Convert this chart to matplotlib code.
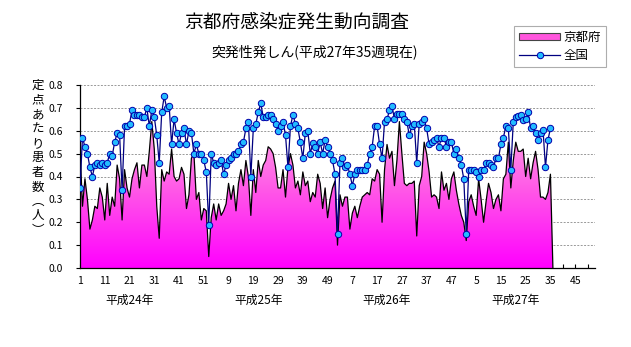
import matplotlib
matplotlib.use("Agg")
import matplotlib.pyplot as plt
import numpy as np
from matplotlib.colors import LinearSegmentedColormap
from matplotlib.patches import Polygon, Patch
from matplotlib.lines import Line2D
from matplotlib.ticker import MultipleLocator, FixedLocator

plt.rcParams['font.family'] = ['Noto Sans CJK JP', 'DejaVu Sans']

# 定点あたり患者数, weekly (平成24年 wk1 .. 平成27年 wk35)
kyoto_h24 = [0.52, 0.27, 0.39, 0.30, 0.17, 0.21, 0.27, 0.26, 0.35, 0.31,
             0.21, 0.37, 0.23, 0.31, 0.27, 0.45, 0.39, 0.21, 0.43, 0.35,
             0.31, 0.39, 0.43, 0.46, 0.35, 0.45, 0.45, 0.40, 0.51, 0.64,
             0.52, 0.27, 0.13, 0.43, 0.38, 0.42, 0.41, 0.52, 0.40, 0.38,
             0.39, 0.44, 0.41, 0.26, 0.32, 0.48, 0.50, 0.30, 0.33, 0.21,
             0.26, 0.25]
kyoto_h25 = [0.05, 0.22, 0.28, 0.21, 0.28, 0.23, 0.25, 0.28, 0.37, 0.30,
             0.36, 0.25, 0.37, 0.43, 0.36, 0.47, 0.40, 0.23, 0.43, 0.33,
             0.47, 0.40, 0.45, 0.47, 0.53, 0.52, 0.50, 0.44, 0.35, 0.35,
             0.43, 0.31, 0.44, 0.50, 0.45, 0.35, 0.38, 0.32, 0.42, 0.36,
             0.38, 0.29, 0.33, 0.31, 0.41, 0.37, 0.26, 0.35, 0.22, 0.30,
             0.35, 0.38]
kyoto_h26 = [0.10, 0.32, 0.27, 0.31, 0.31, 0.17, 0.24, 0.27, 0.22, 0.27,
             0.31, 0.32, 0.33, 0.32, 0.39, 0.38, 0.43, 0.41, 0.20, 0.43,
             0.54, 0.48, 0.51, 0.36, 0.47, 0.64, 0.50, 0.37, 0.36, 0.37,
             0.37, 0.38, 0.14, 0.36, 0.40, 0.55, 0.50, 0.42, 0.31, 0.32,
             0.31, 0.26, 0.42, 0.34, 0.37, 0.30, 0.39, 0.42, 0.34, 0.28,
             0.23, 0.20]
kyoto_h27 = [0.12, 0.29, 0.32, 0.27, 0.23, 0.39, 0.30, 0.20, 0.29, 0.37,
             0.33, 0.26, 0.30, 0.32, 0.25, 0.39, 0.41, 0.55, 0.35, 0.47,
             0.55, 0.51, 0.51, 0.52, 0.40, 0.48, 0.39, 0.46, 0.51, 0.43,
             0.31, 0.31, 0.30, 0.33, 0.41]

zenkoku_h24 = [0.35, 0.57, 0.53, 0.50, 0.44, 0.40, 0.45, 0.46, 0.45, 0.46,
               0.45, 0.46, 0.50, 0.49, 0.55, 0.59, 0.58, 0.34, 0.62, 0.62,
               0.63, 0.69, 0.67, 0.67, 0.67, 0.66, 0.66, 0.70, 0.62, 0.69,
               0.66, 0.58, 0.46, 0.68, 0.75, 0.70, 0.71, 0.54, 0.65, 0.59,
               0.54, 0.59, 0.61, 0.54, 0.60, 0.59, 0.50, 0.54, 0.50, 0.50,
               0.47, 0.42]
zenkoku_h25 = [0.19, 0.50, 0.46, 0.45, 0.46, 0.47, 0.41, 0.45, 0.47, 0.48,
               0.50, 0.50, 0.51, 0.54, 0.55, 0.61, 0.64, 0.40, 0.61, 0.63,
               0.68, 0.72, 0.66, 0.66, 0.67, 0.67, 0.65, 0.63, 0.60, 0.62,
               0.64, 0.58, 0.44, 0.62, 0.67, 0.63, 0.61, 0.55, 0.48, 0.59,
               0.60, 0.50, 0.545, 0.53, 0.50, 0.55, 0.50, 0.56, 0.53, 0.50,
               0.47, 0.41]
zenkoku_h26 = [0.15, 0.46, 0.48, 0.44, 0.45, 0.41, 0.36, 0.41, 0.43, 0.43,
               0.43, 0.43, 0.45, 0.50, 0.53, 0.62, 0.62, 0.54, 0.48, 0.64,
               0.65, 0.69, 0.71, 0.65, 0.675, 0.675, 0.675, 0.65, 0.64, 0.58,
               0.62, 0.63, 0.46, 0.63, 0.64, 0.65, 0.61, 0.54, 0.55, 0.56,
               0.57, 0.53, 0.57, 0.57, 0.53, 0.55, 0.55, 0.50, 0.52, 0.48,
               0.45, 0.39]
zenkoku_h27 = [0.15, 0.43, 0.43, 0.43, 0.42, 0.40, 0.43, 0.43, 0.46, 0.46,
               0.45, 0.44, 0.48, 0.48, 0.54, 0.57, 0.62, 0.61, 0.43, 0.64,
               0.66, 0.665, 0.67, 0.645, 0.65, 0.68, 0.61, 0.62, 0.59, 0.56,
               0.59, 0.605, 0.44, 0.56, 0.61]

tick_labels = ['1', '11', '21', '31', '41', '51', '9', '19', '29', '39', '49',
               '7', '17', '27', '37', '47', '5', '15', '25', '35', '45']
year_labels = ['平成24年', '平成25年', '平成26年', '平成27年']
weeks_per_year = [52, 52, 52, 53]

kyoto = np.array(kyoto_h24 + kyoto_h25 + kyoto_h26 + kyoto_h27)
zenkoku = np.array(zenkoku_h24 + zenkoku_h25 + zenkoku_h26 + zenkoku_h27)
n_total = sum(weeks_per_year)
x = np.arange(len(kyoto))

fig = plt.figure(figsize=(6.31, 3.47), dpi=100)
ax = fig.add_axes([80 / 631, 1 - 268 / 347, 515 / 631, 183 / 347])

# gridlines
ax.set_axisbelow(True)
ax.yaxis.grid(True, color='#999999', linestyle=(0, (2, 1.5)), linewidth=0.7)

# Kyoto area: gradient fill clipped to the area polygon (blank weeks -> 0)
xa = np.append(x, len(kyoto))
ya = np.append(kyoto, 0)
verts = [(0, 0)] + list(zip(xa, ya))
poly = Polygon(verts, closed=True, facecolor='none', edgecolor='none')
ax.add_patch(poly)
cmap = LinearSegmentedColormap.from_list('kyo', ['#ff00ff', '#ff55e8', '#ffaae4'])
grad = np.linspace(0, 1, 256).reshape(-1, 1)
im = ax.imshow(grad, extent=[0, n_total - 1, 0, 0.66], origin='lower',
               aspect='auto', cmap=cmap, zorder=1, interpolation='bilinear')
im.set_clip_path(poly)
ax.plot(xa, ya, color='black', linewidth=0.9, zorder=2)

# national line
ax.plot(x, zenkoku, color='#000080', linewidth=0.9, marker='o', markersize=4.6,
        markerfacecolor='#22bbff', markeredgecolor='#0000aa', markeredgewidth=0.7,
        zorder=3)

ax.set_xlim(0, n_total - 1)
ax.set_ylim(0, 0.8)
ax.xaxis.set_major_locator(FixedLocator(np.arange(0, 10 * len(tick_labels), 10)))
ax.xaxis.set_minor_locator(MultipleLocator(5))
ax.set_xticklabels(tick_labels)
ax.set_yticks(np.arange(0, 0.81, 0.1))
ax.set_yticklabels([f'{v:.1f}' for v in np.arange(0, 0.81, 0.1)])
ax.tick_params(axis='x', which='both', direction='in', length=3, width=0.8,
               labelsize=7.5, pad=6)
ax.tick_params(axis='y', direction='out', length=3, width=0.8, labelsize=7.5, pad=9)
for s in ['top', 'right']:
    ax.spines[s].set_visible(False)
for s in ['left', 'bottom']:
    ax.spines[s].set_linewidth(0.9)

# year labels under the axis
start = 0
for lab, nw in zip(year_labels, weeks_per_year):
    ax.text(start + 20, -0.142, lab, ha='center', va='center', fontsize=8.5,
            transform=ax.transData, clip_on=False)
    start += nw

fig.text(297 / 631, 1 - 22 / 347, '京都府感染症発生動向調査', ha='center', va='center',
         fontsize=13.5)
fig.text(315 / 631, 1 - 52 / 347, '突発性発しん(平成27年35週現在)', ha='center',
         va='center', fontsize=10)
fig.text(38 / 631, 1 - 158 / 347, '定\n点\nあ\nた\nり\n患\n者\n数\n︵\n人\n︶',
         ha='center', va='center', fontsize=9, linespacing=1.15)

handles = [Patch(facecolor='#ff55dd', edgecolor='#444444', linewidth=0.8),
           Line2D([], [], color='#000080', linewidth=0.9, marker='o', markersize=4.6,
                  markerfacecolor='#22bbff', markeredgecolor='#0000aa',
                  markeredgewidth=0.7)]
leg = fig.legend(handles, ['京都府', '全国'], loc='upper left',
                 bbox_to_anchor=(514 / 631, 1 - 26 / 347), fontsize=9,
                 frameon=True, fancybox=False, edgecolor='#999999',
                 handlelength=3.3, handleheight=0.45, borderpad=0.4,
                 labelspacing=0.4, handletextpad=0.25, borderaxespad=0)
leg.get_frame().set_linewidth(0.8)

fig.savefig('out.png', dpi=100)
